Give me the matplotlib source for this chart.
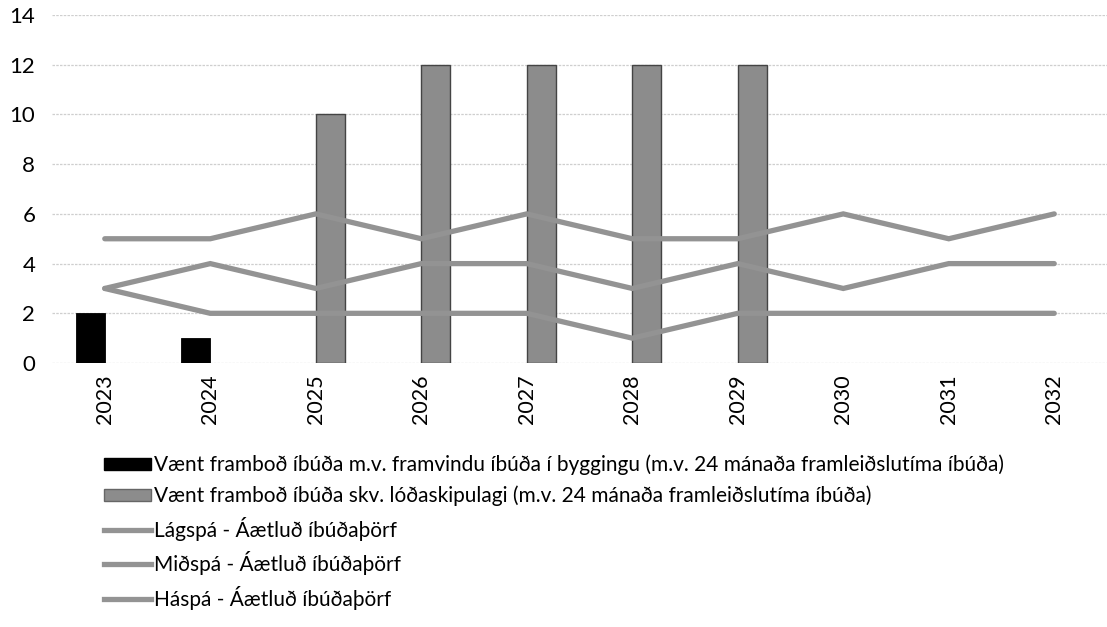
import matplotlib
matplotlib.use("Agg")
import matplotlib.pyplot as plt
import numpy as np
from matplotlib.patches import Patch
from matplotlib.lines import Line2D

plt.rcParams['font.family'] = ['Lato', 'DejaVu Sans']

years = ['2023', '2024', '2025', '2026', '2027', '2028', '2029', '2030', '2031', '2032']
framvinda = [2, 1, 0, 0, 0, 0, 0, 0, 0, 0]
lodaskipulag = [0, 0, 10, 12, 12, 12, 12, 0, 0, 0]
lagspa = [3, 2, 2, 2, 2, 1, 2, 2, 2, 2]
midspa = [3, 4, 3, 4, 4, 3, 4, 3, 4, 4]
haspa = [5, 5, 6, 5, 6, 5, 5, 6, 5, 6]

labels = [
    'Vænt framboð íbúða m.v. framvindu íbúða í byggingu (m.v. 24 mánaða framleiðslutíma íbúða)',
    'Vænt framboð íbúða skv. lóðaskipulagi (m.v. 24 mánaða framleiðslutíma íbúða)',
    'Lágspá - Áætluð íbúðaþörf',
    'Miðspá - Áætluð íbúðaþörf',
    'Háspá - Áætluð íbúðaþörf',
]

fig = plt.figure(figsize=(11.07, 6.27), dpi=100)
ax = fig.add_axes([0.047, 0.421, 0.953, 0.555])

x = np.arange(len(years))
w = 0.275
f = np.array(framvinda, dtype=float)
l = np.array(lodaskipulag, dtype=float)
mf = f > 0
ml = l > 0
ax.bar(x[mf] - w / 2, f[mf], w, color='black', edgecolor='black', linewidth=0.6, zorder=2)
ax.bar(x[ml] + w / 2, l[ml], w, color='#8c8c8c', edgecolor='#444444', linewidth=1.0, zorder=2)

lc = '#939393'
for series in (lagspa, midspa, haspa):
    ax.plot(x, series, color=lc, linewidth=3.8, solid_capstyle='round',
            solid_joinstyle='miter', zorder=3)

ax.set_xlim(-0.5, 9.5)
ax.set_ylim(0, 14)
ax.set_yticks(range(0, 15, 2))
ax.set_xticks(x)
ax.set_xticklabels(years, rotation=90, fontsize=15.5)
ax.tick_params(axis='y', labelsize=16, length=0, pad=12)
ax.tick_params(axis='x', length=0, pad=8)
ax.grid(axis='y', color='#cfcfcf', linewidth=0.9, linestyle=(0, (2, 1)), zorder=0)
for s in ax.spines.values():
    s.set_visible(False)

handles = [
    Patch(facecolor='black', edgecolor='black'),
    Patch(facecolor='#8c8c8c', edgecolor='#666666'),
    Line2D([], [], color=lc, linewidth=3.8),
    Line2D([], [], color=lc, linewidth=3.8),
    Line2D([], [], color=lc, linewidth=3.8),
]
fig.legend(handles, labels, loc='upper left', bbox_to_anchor=(0.086, 0.288),
           frameon=False, fontsize=15, handlelength=2.3, handleheight=0.55,
           handletextpad=0.1, labelspacing=0.5, borderaxespad=0)

fig.savefig('out.png', dpi=100)
